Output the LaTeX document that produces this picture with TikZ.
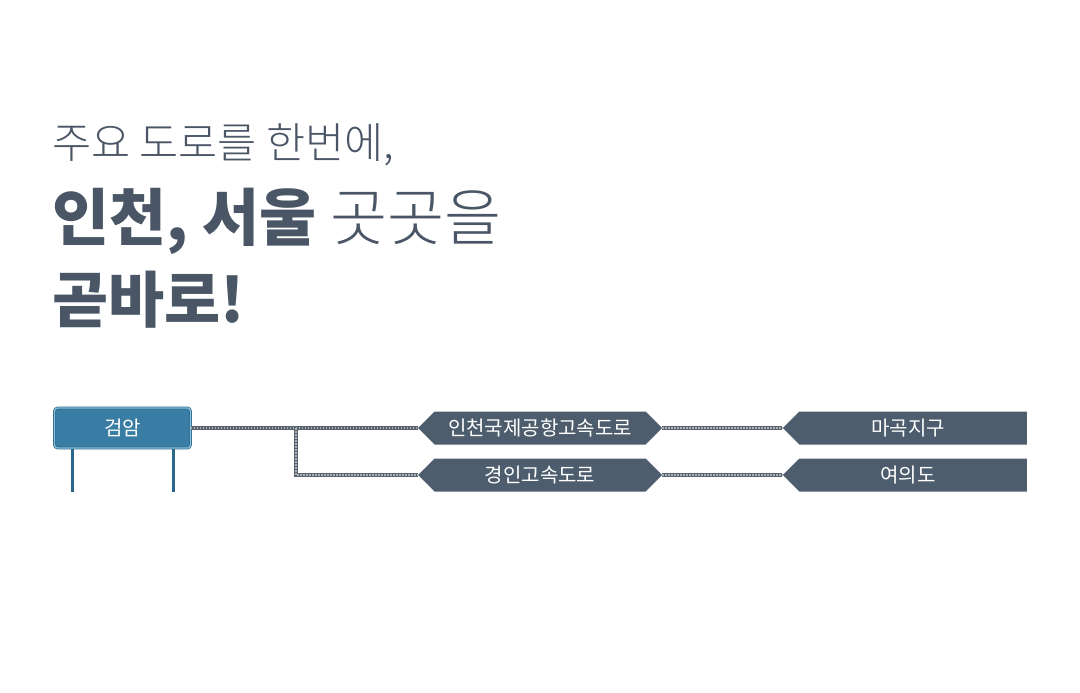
\documentclass[tikz,border=0pt]{standalone}
\usepackage{fontspec}
\setmainfont{Noto Sans CJK KR}
\IfFontExistsTF{Noto Sans CJK KR Light}
  {\newfontfamily\thinfont{Noto Sans CJK KR Light}}
  {\newfontfamily\thinfont{Noto Sans CJK KR}}
\usepackage{xcolor}
\usepackage{tikz}
\usetikzlibrary{shapes.symbols}
\definecolor{slate}{HTML}{4D5D6D}
\definecolor{titlegray}{HTML}{4A5666}
\definecolor{signblue}{HTML}{3A7DA4}
\definecolor{signedge}{HTML}{2A678A}
\definecolor{signlight}{HTML}{8CC3DF}
\definecolor{roadgray}{HTML}{5A626C}
\definecolor{roaddot}{HTML}{A9B0B7}

\begin{document}
\begin{tikzpicture}[x=1pt,y=-1pt,
    title/.style={anchor=west,inner sep=0pt,text=titlegray},
    sign/.style={rectangle,rounded corners=3pt,fill=signblue,draw=signedge,double=signlight,
        double distance=1.2pt,line width=0.7pt,minimum width=136pt,minimum height=40pt,
        text=white,font=\fontsize{20}{24}\selectfont},
    pole/.style={draw=signedge,line width=3pt},
    hexbox/.style={signal,signal to=west and east,signal pointer angle=90,fill=slate,
        minimum width=244pt,minimum height=33pt,inner sep=0pt,text=white,
        font=\fontsize{20}{24}\selectfont},
    flag/.style={signal,signal to=west,signal pointer angle=90,fill=slate,
        minimum width=244pt,minimum height=33pt,inner sep=0pt,text=white,
        font=\fontsize{20}{24}\selectfont},
    road/.style={draw=roadgray,line width=4.5pt,
        postaction={draw=roaddot,line width=1.4pt,dash pattern=on 1.5pt off 1.5pt}}]
    \useasboundingbox (0,0) rectangle (1080,693);
    \node[title,font=\fontsize{42.5}{50}\thinfont] (line1) at (52,145) {주요 도로를 한번에,};
    \node[title,font=\fontsize{62}{70}\selectfont] (line2) at (52,221) {{\bfseries 인천, 서울} {\mdseries\thinfont 곳곳을}};
    \node[title,font=\fontsize{61}{70}\selectfont\bfseries] (line3) at (52,300) {곧바로!};
    \draw[pole] (72,447) -- (72,492);
    \draw[pole] (173,447) -- (173,492);
    \node[sign] (gumam) at (122.5,428) {검암};
    \node[hexbox] (icn) at (540,428) {인천국제공항고속도로};
    \node[hexbox] (gyeongin) at (540,475) {경인고속도로};
    \node[flag] (magok) at (913,428) {\hspace*{-10pt}마곡지구};
    \node[flag] (yeouido) at (913,475) {\hspace*{-10pt}여의도};
    \coordinate (fork) at (296,428);
    \draw[road] (gumam.east) -- (icn.west);
    \draw[road] (fork) |- (gyeongin.west);
    \draw[road] (icn.east) -- (magok.west);
    \draw[road] (gyeongin.east) -- (yeouido.west);
\end{tikzpicture}
\end{document}
